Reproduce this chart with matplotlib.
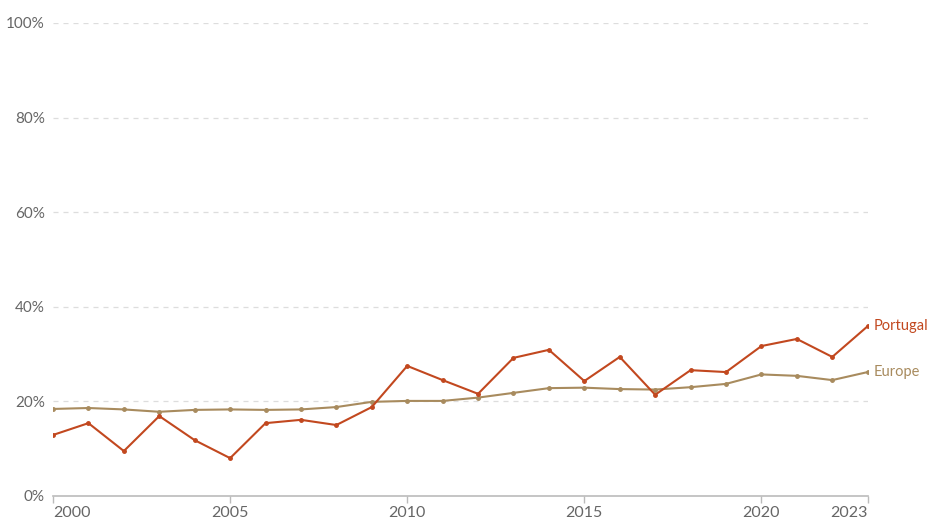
import matplotlib.pyplot as plt
from matplotlib.ticker import FuncFormatter

years = list(range(2000, 2024))
portugal = [12.9, 15.4, 9.5, 16.9, 11.8, 8.0, 15.4, 16.1, 15.0, 18.8, 27.5, 24.5,
            21.6, 29.2, 30.9, 24.3, 29.4, 21.4, 26.6, 26.2, 31.7, 33.2, 29.4, 35.9]
europe = [18.4, 18.6, 18.3, 17.8, 18.2, 18.3, 18.2, 18.3, 18.8, 19.9, 20.1, 20.1,
          20.8, 21.8, 22.8, 22.9, 22.6, 22.5, 23.0, 23.7, 25.7, 25.4, 24.5, 26.2]
x_ticks = [2000, 2005, 2010, 2015, 2020, 2023]
y_ticks = [0, 20, 40, 60, 80, 100]

c_pt = '#c2481f'
c_eu = '#a88b5e'
grey = '#666666'

plt.rcParams['font.family'] = ['Lato', 'DejaVu Sans']

fig = plt.figure(figsize=(9.3, 5.18), dpi=100)
ax = fig.add_axes([0.057, 0.0425, 0.876, 0.9131])

# series
ax.plot(years, europe, color=c_eu, lw=1.5, marker='o', ms=2.5, zorder=3)
ax.plot(years, portugal, color=c_pt, lw=1.5, marker='o', ms=2.5, zorder=4)

# end labels
ax.text(years[-1] + 0.17, portugal[-1], 'Portugal', color=c_pt, fontsize=10.5,
        va='center', ha='left')
ax.text(years[-1] + 0.17, europe[-1], 'Europe', color=c_eu, fontsize=10.5,
        va='center', ha='left')

ax.set_xlim(2000, 2023)
ax.set_ylim(0, 100)
ax.set_yticks(y_ticks)
ax.yaxis.set_major_formatter(FuncFormatter(lambda v, p: f'{v:.0f}%'))
ax.set_xticks(x_ticks)

for y in y_ticks[1:]:
    ax.axhline(y, color='#dddddd', lw=0.9, ls=(0, (4, 4)), zorder=1)

for s in ['top', 'right', 'left']:
    ax.spines[s].set_visible(False)
ax.spines['bottom'].set_color('#bbbbbb')
ax.spines['bottom'].set_linewidth(1.2)

ax.tick_params(axis='y', length=0, labelsize=11, labelcolor=grey, pad=6)
ax.tick_params(axis='x', length=5, color='#bbbbbb', width=1, labelsize=11.5,
               labelcolor=grey, pad=2)
xl = ax.get_xticklabels()
xl[0].set_ha('left')
xl[-1].set_ha('right')

fig.savefig('out.png', dpi=100)
